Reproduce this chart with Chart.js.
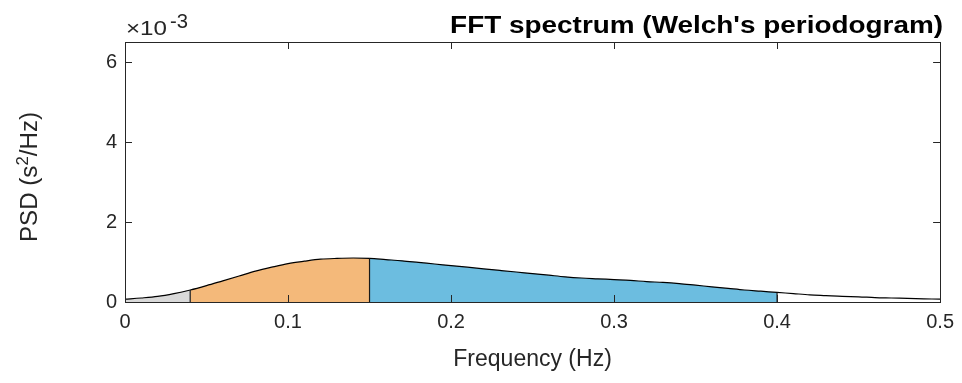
<!DOCTYPE html>
<html>
<head>
<meta charset="utf-8">
<script src="https://cdn.jsdelivr.net/npm/chart.js@4/dist/chart.umd.min.js"></script>
<style>
    html, body { margin: 0; padding: 0; background: #fff; }
    canvas { display: block; }
</style>
</head>
<body>
<canvas id="psdChart" width="962" height="383"></canvas>
<script>
// frequency grid (Hz) and PSD values (x 10^-3 s^2/Hz)
const freq = [
    0.00, 0.01, 0.02, 0.03, 0.04, 0.05, 0.06, 0.07, 0.08, 0.09,
    0.10, 0.11, 0.12, 0.13, 0.14, 0.15, 0.16, 0.17, 0.18, 0.19,
    0.20, 0.21, 0.22, 0.23, 0.24, 0.25, 0.26, 0.27, 0.28, 0.29,
    0.30, 0.31, 0.32, 0.33, 0.34, 0.35, 0.36, 0.37, 0.38, 0.39,
    0.40, 0.41, 0.42, 0.43, 0.44, 0.45, 0.46, 0.47, 0.48, 0.49,
    0.50
];
const psd = [
    0.07, 0.10, 0.14, 0.21, 0.30, 0.41, 0.53, 0.65, 0.77, 0.87,
    0.96, 1.02, 1.07, 1.09, 1.10, 1.09, 1.06, 1.03, 0.99, 0.95,
    0.91, 0.87, 0.83, 0.79, 0.75, 0.71, 0.67, 0.63, 0.60, 0.58,
    0.56, 0.54, 0.51, 0.49, 0.46, 0.42, 0.38, 0.34, 0.30, 0.27,
    0.24, 0.21, 0.18, 0.16, 0.14, 0.13, 0.11, 0.10, 0.09, 0.08,
    0.07
];

// frequency bands
const vlfBand = [0, 0.04];
const lfBand = [0.04, 0.15];
const hfBand = [0.15, 0.4];

// axes
const xTicks = [0, 0.1, 0.2, 0.3, 0.4, 0.5];
const xTickLabels = ['0', '0.1', '0.2', '0.3', '0.4', '0.5'];
const yTicks = [0, 2, 4, 6];
const yTickLabels = ['0', '2', '4', '6'];
const xMax = 0.5;
const yMax = 6.5;

const axisColor = 'rgb(38,38,38)';
const fontFamily = '"Liberation Sans", Arial, Helvetica, sans-serif';

function bandPoints(band) {
    const pts = [];
    freq.forEach((f, i) => {
        if (f >= band[0] - 1e-9 && f <= band[1] + 1e-9) {
            pts.push({ x: f, y: psd[i] });
        }
    });
    return pts;
}

function edgePoints(f) {
    const i = freq.findIndex(v => Math.abs(v - f) < 1e-9);
    return [{ x: f, y: 0 }, { x: f, y: psd[i] }];
}

function fillSet(band, color) {
    return {
        data: bandPoints(band),
        fill: 'origin',
        backgroundColor: color,
        borderWidth: 0,
        pointRadius: 0,
        cubicInterpolationMode: 'monotone',
        order: 3
    };
}

function edgeSet(f) {
    return {
        data: edgePoints(f),
        borderColor: 'rgb(25,25,25)',
        borderWidth: 1.2,
        pointRadius: 0,
        fill: false,
        order: 1
    };
}

// draw text squeezed/stretched to a given width
function fitText(ctx, text, x, y, width) {
    const tw = ctx.measureText(text).width;
    ctx.save();
    ctx.translate(x, y);
    ctx.scale(width / tw, 1);
    ctx.fillText(text, 0, 0);
    ctx.restore();
}

// box, inward ticks, title, exponent and y label (matlab look)
const matlabAxes = {
    id: 'matlabAxes',
    afterDatasetsDraw(chart) {
        const { ctx, chartArea, scales } = chart;
        const { left, top, right, bottom } = chartArea;
        const tickLen = 7;

        ctx.save();
        ctx.strokeStyle = axisColor;
        ctx.lineWidth = 1;
        ctx.strokeRect(Math.round(left) + 0.5, Math.round(top) + 0.5,
            Math.round(right - left), Math.round(bottom - top));

        ctx.beginPath();
        xTicks.forEach(v => {
            const px = Math.round(scales.x.getPixelForValue(v)) + 0.5;
            ctx.moveTo(px, bottom);
            ctx.lineTo(px, bottom - tickLen);
            ctx.moveTo(px, top);
            ctx.lineTo(px, top + tickLen);
        });
        yTicks.forEach(v => {
            const py = Math.round(scales.y.getPixelForValue(v)) + 0.5;
            ctx.moveTo(left, py);
            ctx.lineTo(left + tickLen, py);
            ctx.moveTo(right, py);
            ctx.lineTo(right - tickLen, py);
        });
        ctx.stroke();
        ctx.restore();
    },
    afterDraw(chart) {
        const { ctx, chartArea } = chart;
        ctx.save();
        ctx.fillStyle = 'rgb(0,0,0)';
        ctx.textBaseline = 'alphabetic';

        // title
        ctx.font = 'bold 23px ' + fontFamily;
        ctx.textAlign = 'right';
        fitText(ctx, "FFT spectrum (Welch's periodogram)", chartArea.right + 3, 33, 493);

        // exponent label
        ctx.fillStyle = axisColor;
        ctx.textAlign = 'left';
        ctx.font = '21px ' + fontFamily;
        fitText(ctx, '\u00d710', chartArea.left + 1, 35, 41);
        ctx.font = '20px ' + fontFamily;
        fitText(ctx, '-3', chartArea.left + 45, 28, 18);

        // y axis label with superscript
        ctx.translate(37, (chartArea.top + chartArea.bottom) / 2 + 5);
        ctx.rotate(-Math.PI / 2);
        const parts = [['PSD (s', 23, 0], ['2', 16, -9], ['/Hz)', 23, 0]];
        let total = 0;
        parts.forEach(p => {
            ctx.font = p[1] + 'px ' + fontFamily;
            total += ctx.measureText(p[0]).width;
        });
        const sx = 130 / total;
        ctx.scale(sx, 1);
        let cx = -total / 2;
        parts.forEach(p => {
            ctx.font = p[1] + 'px ' + fontFamily;
            ctx.fillText(p[0], cx, p[2]);
            cx += ctx.measureText(p[0]).width;
        });
        ctx.restore();
    }
};

const ctx = document.getElementById('psdChart').getContext('2d');

const chart = new Chart(ctx, {
    type: 'line',
    data: {
        datasets: [
            fillSet(vlfBand, 'rgb(217,217,217)'),
            fillSet(lfBand, 'rgb(244,185,122)'),
            fillSet(hfBand, 'rgb(108,189,224)'),
            {
                data: freq.map((f, i) => ({ x: f, y: psd[i] })),
                borderColor: 'rgb(0,0,0)',
                borderWidth: 1.2,
                pointRadius: 0,
                fill: false,
                cubicInterpolationMode: 'monotone',
                order: 2
            },
            edgeSet(vlfBand[1]),
            edgeSet(lfBand[1]),
            edgeSet(hfBand[1])
        ]
    },
    options: {
        responsive: false,
        animation: false,
        layout: { padding: { left: 0, right: 21, top: 42, bottom: 0 } },
        plugins: {
            legend: { display: false },
            tooltip: { enabled: false }
        },
        scales: {
            x: {
                type: 'linear',
                min: 0,
                max: xMax,
                grid: { display: false, drawTicks: false },
                border: { display: false },
                afterBuildTicks: scale => { scale.ticks = xTicks.map(v => ({ value: v })); },
                afterFit: scale => { scale.height = 81; },
                ticks: {
                    color: axisColor,
                    font: { family: fontFamily, size: 20 },
                    padding: 8,
                    maxRotation: 0,
                    autoSkip: false,
                    callback: (v, i) => xTickLabels[i]
                },
                title: {
                    display: true,
                    text: 'Frequency (Hz)',
                    color: axisColor,
                    font: { family: fontFamily, size: 23 },
                    padding: { top: 0, bottom: 10 }
                }
            },
            y: {
                type: 'linear',
                min: 0,
                max: yMax,
                grid: { display: false, drawTicks: false },
                border: { display: false },
                afterBuildTicks: scale => { scale.ticks = yTicks.map(v => ({ value: v })); },
                afterFit: scale => { scale.width = 125; },
                ticks: {
                    color: axisColor,
                    font: { family: fontFamily, size: 20 },
                    padding: 8,
                    autoSkip: false,
                    callback: (v, i) => yTickLabels[i]
                }
            }
        }
    },
    plugins: [matlabAxes]
});
</script>
</body>
</html>
